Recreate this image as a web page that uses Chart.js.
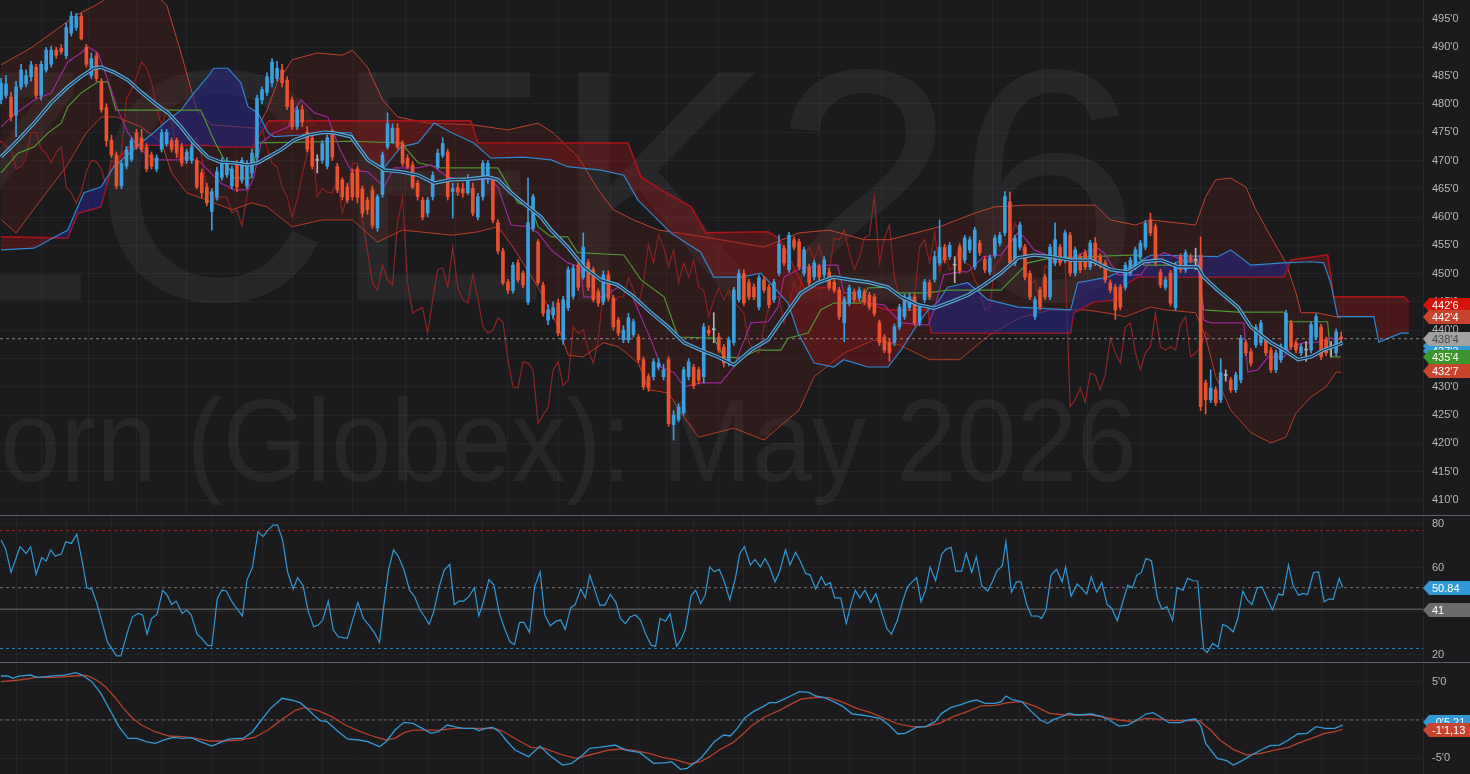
<!DOCTYPE html>
<html>
<head>
<meta charset="utf-8">
<title>ZCK26 - Corn (Globex): May 2026</title>
<script src="https://cdn.jsdelivr.net/npm/chart.js@4.4.1/dist/chart.umd.min.js"></script>
<style>
  html, body { margin: 0; padding: 0; background: #1b1b1e; overflow: hidden; }
  .pane { position: absolute; left: 0; width: 1470px; }
  #p1 { top: 0; height: 515px; }
  #p2 { top: 515px; height: 147px; }
  #p3 { top: 662px; height: 112px; }
</style>
</head>
<body>
<div class="pane" id="p1"><canvas id="mainChart"></canvas></div>
<div class="pane" id="p2"><canvas id="rsiChart"></canvas></div>
<div class="pane" id="p3"><canvas id="macdChart"></canvas></div>
<script>
// ---- price data (one candle per session) ----
const opens = [
  480.7,481.5,481.2,478.0,483.0,483.5,484.8,486.5,481.5,486.0, 487.0,489.5,489.8,488.5,492.5,493.5,495.5,490.0,485.0,488.5,
  484.0,479.3,473.6,471.0,465.5,469.0,470.2,474.9,474.0,472.4, 471.0,468.5,472.0,473.0,473.5,473.6,472.4,470.0,470.0,470.0,
  467.8,465.3,461.0,463.5,467.0,467.5,465.5,469.6,466.5,465.5, 467.8,470.6,480.7,482.0,483.7,484.5,486.0,484.2,480.7,476.0,
  479.0,475.0,474.0,470.0,470.0,469.0,475.0,468.9,466.6,465.3, 467.8,468.5,465.0,463.0,464.8,458.1,464.0,472.4,473.3,475.7,
  473.0,470.4,469.2,466.0,463.0,460.7,463.6,468.9,470.9,471.5, 464.5,465.2,465.0,464.3,465.1,460.0,463.6,466.8,466.6,459.0,
  454.0,448.5,447.0,451.9,450.1,445.0,458.0,455.6,448.0,441.8, 442.7,444.8,438.3,444.0,446.0,451.5,449.4,452.0,450.7,446.8,
  445.0,449.8,445.7,441.8,438.3,438.3,439.2,438.8,434.8,431.8, 431.8,433.5,431.8,434.8,423.3,424.2,425.4,431.8,433.5,433.0,
  431.8,440.0,440.1,438.8,437.0,434.2,437.8,445.4,450.0,448.4, 447.6,444.1,448.9,447.6,445.4,450.1,454.5,450.7,456.0,455.6,
  450.1,451.2,449.4,451.2,449.8,450.3,448.5,447.1,441.3,444.8, 446.8,445.7,446.8,446.2,445.9,441.3,438.8,437.9,437.8,440.6,
  442.4,444.0,445.9,441.3,445.4,448.4,449.0,451.9,454.7,453.0, 451.5,454.7,452.4,454.2,451.2,455.4,452.5,450.3,453.3,455.4,
  457.2,462.7,451.9,454.7,454.7,450.0,442.4,447.1,449.4,445.9, 451.9,454.7,452.4,456.8,450.1,453.0,453.7,451.2,455.4,453.0,
  451.9,448.4,447.6,447.6,447.6,450.1,451.2,453.0,454.7,459.5, 458.3,450.3,447.6,450.1,444.0,453.0,450.7,453.0,452.4,453.3,
  430.7,427.7,429.5,427.7,432.0,431.2,429.5,431.2,437.8,436.2, 437.4,437.8,438.3,436.5,433.0,434.8,436.5,441.3,437.8,436.0,
  436.5,436.5,438.8,440.6,438.3,437.0,436.0,438.8
];
const highs = [
  484.5,485.0,482.0,484.0,487.0,486.0,487.5,487.0,487.5,490.0, 490.2,490.0,490.5,494.3,496.3,496.0,496.0,490.5,489.0,489.0,
  484.5,480.0,474.5,471.5,470.0,472.5,474.0,475.5,475.5,473.0, 471.5,471.0,475.5,475.5,474.0,474.0,473.0,472.0,473.0,470.5,
  468.5,466.0,465.0,468.8,470.5,470.5,469.0,470.0,470.5,470.0, 472.0,481.5,483.0,485.5,488.0,487.5,487.0,484.8,481.2,479.5,
  479.8,476.0,474.5,471.0,473.5,474.5,475.5,469.5,467.0,466.0, 468.5,469.0,465.5,463.5,465.5,464.0,471.5,478.4,476.5,476.5,
  473.5,471.0,469.8,466.5,463.5,463.5,468.0,472.0,474.0,472.0, 466.0,466.0,466.0,467.5,466.0,464.2,470.0,470.0,467.0,459.5,
  454.5,449.0,452.0,452.5,450.5,466.9,464.0,456.0,448.5,444.5, 445.0,445.5,446.0,451.2,451.5,452.0,457.2,452.5,451.2,447.3,
  450.5,450.5,446.2,442.3,440.8,443.0,442.0,439.3,435.3,432.3, 435.0,435.0,434.0,435.3,425.8,427.0,433.5,435.0,434.0,433.5,
  441.2,440.8,443.1,439.5,437.5,438.8,447.6,450.7,450.7,449.0, 448.2,449.8,449.5,448.1,449.0,456.8,455.0,457.3,456.5,456.1,
  454.7,451.7,452.4,451.7,453.0,451.0,449.0,447.6,445.9,448.0, 447.3,447.6,447.3,446.7,446.4,441.8,439.3,438.4,441.1,444.6,
  446.4,446.5,446.4,444.6,449.0,448.9,454.0,459.5,455.2,455.5, 453.0,455.2,456.8,456.5,458.2,455.9,453.0,453.3,456.8,457.3,
  464.5,464.4,456.8,459.1,455.2,450.5,445.9,447.6,449.9,455.2, 459.0,455.2,457.7,457.3,454.7,453.5,454.2,455.9,456.4,453.5,
  452.4,448.9,448.1,448.1,452.0,452.9,454.7,455.9,459.4,460.7, 458.8,450.8,449.4,450.6,452.0,453.5,454.2,453.5,454.5,456.5,
  431.2,433.0,430.0,435.0,433.0,431.7,432.6,439.1,438.3,436.7, 441.0,441.8,438.8,437.0,436.5,437.6,443.5,441.8,438.3,437.6,
  438.0,441.5,442.9,441.1,438.8,438.0,440.2,439.7
];
const lows = [
  480.0,481.0,477.0,474.2,482.5,483.0,484.0,481.0,480.7,485.6, 486.5,488.0,488.8,488.0,492.0,493.0,491.3,486.5,484.5,484.0,
  478.5,472.5,470.5,465.0,465.0,468.5,469.8,472.0,471.5,468.0, 468.5,468.0,471.5,472.5,471.5,470.5,469.0,469.5,469.5,465.0,
  463.5,462.0,457.7,463.0,466.5,467.0,465.0,464.5,466.0,465.0, 467.0,470.0,480.0,481.5,483.0,484.0,483.0,479.0,475.5,475.5,
  476.0,471.5,468.5,467.8,469.5,468.5,470.0,464.3,463.0,462.5, 463.0,462.5,460.0,460.5,458.0,457.5,463.5,472.0,473.0,472.0,
  469.0,468.5,465.0,463.0,459.5,460.0,463.0,468.5,470.5,463.0, 459.8,463.8,463.5,464.0,460.2,459.5,463.0,466.0,459.0,453.5,
  448.0,446.5,446.5,448.5,447.5,444.5,457.5,448.0,442.5,441.0, 442.0,439.0,437.5,443.5,445.5,447.0,449.0,447.0,445.0,444.2,
  444.5,445.2,440.0,439.0,437.8,437.8,438.8,434.3,429.5,429.2, 431.2,433.0,431.2,423.0,420.6,423.8,425.0,431.2,429.7,430.5,
  430.7,439.0,437.8,436.0,433.5,433.7,437.3,445.0,444.3,445.4, 445.4,443.6,446.6,444.0,444.9,449.6,451.4,450.2,454.2,450.7,
  449.6,447.9,448.9,448.9,449.3,447.1,446.6,441.9,438.0,444.3, 444.9,445.2,444.5,443.6,442.5,437.3,436.0,434.5,437.3,440.1,
  441.9,443.5,440.8,440.8,444.9,445.4,448.5,451.4,451.9,452.5, 448.4,450.0,451.9,453.7,450.7,453.2,450.2,449.8,452.8,454.9,
  456.7,451.4,451.4,454.2,448.9,445.4,441.9,443.6,445.4,445.4, 451.4,451.4,451.9,449.6,449.6,450.2,450.7,450.7,451.4,451.0,
  448.4,446.6,441.9,443.6,447.1,449.6,450.7,452.5,454.2,456.7, 451.4,447.5,447.1,444.3,443.5,450.2,450.2,451.9,450.7,425.8,
  425.2,427.2,426.7,427.2,431.0,429.0,429.0,430.7,435.5,433.7, 436.9,437.3,435.5,432.5,432.5,434.3,436.0,436.6,436.0,435.5,
  434.5,436.0,438.3,434.8,435.5,435.3,435.5,437.3
];
const closes = [
  483.7,483.5,477.7,483.0,486.0,485.0,486.9,481.5,487.0,489.5, 489.5,488.6,489.2,493.5,495.5,495.4,491.5,487.0,488.0,484.5,
  479.0,473.5,471.0,465.5,469.5,471.9,473.5,472.5,472.0,468.5, 469.0,470.5,474.9,475.0,472.0,471.3,469.6,471.5,472.4,465.3,
  464.3,462.5,464.5,468.0,470.0,469.8,468.5,465.3,470.0,469.5, 471.3,481.0,482.5,484.8,487.4,486.3,483.7,479.5,476.0,478.9,
  476.8,472.0,469.0,470.0,473.0,474.0,470.6,464.8,463.6,463.0, 463.6,463.5,460.7,461.3,458.5,463.6,471.0,476.5,475.7,472.4,
  469.5,468.9,465.3,463.6,460.0,463.0,467.4,471.3,473.0,463.6, 465.0,464.4,464.3,466.6,460.7,463.6,469.5,469.5,459.5,454.0,
  448.4,447.1,451.5,448.9,448.0,459.0,463.6,448.4,443.0,443.6, 444.0,439.5,445.4,450.7,451.0,447.6,454.7,447.6,445.4,444.8,
  449.8,445.7,440.6,439.5,440.0,442.2,441.5,434.8,430.0,429.8, 434.4,434.2,433.0,423.5,425.0,426.4,433.0,434.4,430.2,431.2,
  440.6,439.5,440.1,436.5,434.2,438.3,447.1,450.0,444.8,445.9, 445.9,449.3,447.1,444.5,448.5,455.2,451.9,456.8,454.7,451.2,
  454.2,448.4,451.9,449.4,452.4,447.6,447.1,442.4,445.4,447.5, 445.4,447.1,445.0,444.1,443.0,437.8,436.5,436.0,440.6,444.1,
  445.9,445.9,441.3,444.1,448.5,445.9,453.0,454.7,452.4,455.0, 451.5,450.5,456.3,456.0,457.7,453.7,450.7,452.8,456.3,456.8,
  463.6,451.9,456.3,458.6,449.4,445.9,445.4,444.1,445.9,454.7, 456.0,451.9,457.2,450.1,454.2,450.7,451.2,455.4,451.9,451.5,
  448.9,447.1,443.6,444.1,451.5,452.4,454.2,455.4,458.9,457.2, 451.9,448.0,448.9,444.8,451.5,450.7,453.7,452.4,452.4,426.5,
  427.7,429.8,427.2,432.5,432.0,429.5,432.1,438.6,436.0,434.2, 440.5,441.3,436.0,433.0,436.0,437.1,443.0,437.1,436.5,437.1,
  436.5,441.0,442.4,435.3,436.0,437.0,439.7,438.5
];
const lastPrice = 438.5;
const chikouShift = 26;

// ---- overlays, [candle index, price] ----
const maLine = [[0,470.6],[3.4,473.6],[6.6,476.6],[10,480.2],[13.3,483],[15.9,484.8],[18.5,486.3],[19.9,486.5],[22.5,485.6],[25.3,484.2],[27.9,482.1],[30.5,480.2],[33.3,478.4],[35.9,475.9],[38.4,473.1],[41.2,470.6],[43.8,469.7],[46.4,469.6],[49.2,469.2],[51.2,469.6],[53.2,470.6],[55.8,471.9],[58.4,473.6],[61.2,474.5],[64.3,475],[66.3,474.9],[69.7,474.2],[73.1,470.1],[76.3,468.3],[79.7,468],[83.1,467.4],[86.3,466],[89.6,466.6],[93,466.7],[97,467.1],[99,466.6],[101.6,464.3],[105,461.8],[107.6,460],[109.6,457.7],[112.9,454.7],[116.1,451.2],[119.5,448.9],[122.9,448],[126.1,445.9],[129.5,443.1],[132.9,440.6],[136.1,437.8],[139.4,436.5],[142.8,435.3],[146,433.9],[149.4,436.5],[152.8,438.3],[156,442.4],[159.4,446.6],[162.7,448.4],[165.9,449.4],[169.3,448.9],[172.7,448.5],[176.7,447.6],[179.3,445.9],[182.7,444.5],[185.9,443.9],[189.2,445],[192.6,446.2],[195.8,448],[199.2,450.1],[202.6,452.8],[205.8,453.3],[209.2,453],[213.1,452.4],[217.1,452.4],[221.1,450.7],[224.5,450.3],[227.7,452.1],[231.1,452.4],[234.5,451.2],[238.4,451.2],[239.6,449.4],[242.4,447.1],[246.4,444.1],[249,440.6],[253,437.8],[255.6,436.5],[258.4,434.8],[261,435.3],[263.5,436.5],[266.3,437.4],[267.3,437.8]];
const tenkan = [[0,475.9],[2,477.7],[6.6,480.7],[10,481.9],[13.3,487.4],[15.9,489],[17.3,490.1],[19.3,489],[21.3,484.2],[23.3,478.9],[25.3,474.9],[27.9,471.9],[30.5,470.1],[35.3,470.1],[37.3,470.6],[39.8,469.6],[41.8,467.8],[43.8,466],[46.4,464.8],[49.2,464.8],[50.4,467.1],[51.8,473.1],[54.4,474.9],[57.2,475.9],[58.4,478.9],[59.8,480.7],[62.4,478.4],[65.1,477.7],[67.5,472],[69.7,468.3],[73.1,468],[76.3,465.3],[78.3,468.7],[83.1,468.7],[85.7,469.2],[89,467.1],[91.6,466.6],[97.6,466.6],[99,465.3],[101.6,458.6],[105,458.3],[107,457.2],[109.6,454.2],[112.9,451.9],[115.5,451.2],[116.1,445.9],[120.1,445.9],[122.9,447.6],[125.5,446.6],[127.5,442.4],[129.5,438.3],[131.5,433.5],[134.1,432.5],[136.1,430],[139.4,430.7],[143.4,430.7],[146,433.5],[149.4,441.3],[152.8,441.5],[154.8,444.1],[156,449.4],[159.4,451],[164.7,451.5],[166.7,451.5],[167.9,446.6],[170.7,446.6],[172.7,444.8],[175.9,444.5],[179.3,441.3],[184.7,440.9],[185.9,443.6],[187.8,449.8],[191.2,450.3],[192.6,450.3],[195.8,453],[199.2,453.3],[202.6,457.2],[203.8,456.5],[205.8,454.2],[209.2,453],[212.5,452.4],[215.7,453.7],[218.5,454.5],[219.7,453.7],[222.5,449.8],[227.1,449.8],[229.1,452.4],[231.7,453.7],[235.7,452.4],[238.4,452.4],[239.6,441.8],[241,441.3],[247.6,441.3],[248.4,432.6],[250.4,433],[252.4,435.3],[255.6,435.3],[257,437.1],[259.6,437.8],[262.4,437.9],[264.9,438.6],[266.9,438.3]];
const kijun = [[0,467.8],[3.4,471.3],[6.6,472.4],[9.4,474.9],[12,476.6],[13.3,479.5],[15.9,481.9],[19.3,483.9],[21.3,483.9],[22.9,478.9],[39.8,478.9],[42.4,473.6],[46.4,466.9],[49.8,466.9],[51.2,473.1],[69.7,473.4],[79.7,473.1],[83.1,469.6],[87.6,468.7],[99,468.7],[103,462.5],[105.6,461.8],[107,458.3],[109.6,456.5],[112.9,456.5],[114.9,453.7],[124.1,453.3],[127.5,448.9],[129.5,447.6],[132.1,445.9],[134.9,438.8],[142,438.6],[144,435.3],[147.4,435.1],[150.8,436.5],[155.4,436.5],[156.8,438.6],[160.8,439.5],[163.3,443.6],[165.9,444.8],[171.3,444.8],[172.7,447.5],[176.7,447.6],[178.7,446.6],[184.7,446.6],[188.6,447.1],[199.2,447.1],[202.6,450.1],[204.6,451.9],[209.2,452.8],[226.5,453.3],[227.7,451.5],[233.1,451.5],[234.5,452.1],[238.4,452.1],[239.6,443.6],[246.4,443.2],[255.6,443.2],[256.4,441.5],[264.3,441.5],[264.9,435.3],[266.9,435.3]];
const senkouA = [[0,454.2],[6.6,454.5],[13.3,457.7],[16.5,464.3],[19.9,465.3],[22.5,468.9],[27.9,473.1],[30.5,475],[33.3,477.2],[35.9,478.9],[38.4,481.9],[41.2,484.8],[42.4,486.3],[45.2,486.3],[47.8,483.7],[49.2,479.5],[51.2,478.4],[53.2,474.9],[54.4,474.2],[59.8,474.5],[63.7,475],[69.7,474.9],[73.1,470.1],[76.3,468.7],[79.7,472.4],[83.1,473.1],[86.3,476.6],[89.6,475],[94.2,473.1],[97.6,470.4],[104.2,470.6],[109.6,470.1],[112.9,468.9],[119.5,468.3],[124.1,467.4],[126.9,463],[129.5,460.7],[133.5,457.2],[139.4,453.8],[142,449.4],[147.4,449.4],[151.4,450.1],[154,447.6],[156.8,444.8],[158.8,439.5],[162,434.2],[165.9,433.5],[167.9,434.8],[172.7,433.5],[176.7,433.5],[179.3,436.5],[181.9,440.1],[184.7,443.6],[186.7,445],[188.6,447.6],[192.6,448.4],[196.6,445.4],[202.6,444.1],[213.1,443.6],[214.5,448.4],[220.5,449.4],[224.5,451],[229.1,453.3],[242.4,453],[245,454.2],[249,451.5],[255.6,451.9],[261,452.1],[263.5,451.9],[264.9,448.4],[266.3,442.4],[273.5,442.4],[274.5,437.9],[278.9,439.5],[280.5,439.5]];
const senkouB = [[0,456.5],[13.3,456.3],[15.3,460.7],[19.9,461.8],[21.9,468.3],[25.3,472.4],[27.9,472.7],[41.2,472.7],[43.8,472.4],[50.4,472.4],[51.8,474.9],[53.4,477],[93.6,477],[95,473.1],[124.9,473.1],[127.5,467.1],[131.5,464.8],[137.5,461.8],[140.4,457.2],[152.8,457.4],[154.8,456.3],[156,454.7],[160,447.5],[165.9,447.5],[167.9,445.9],[176.7,443.6],[184.7,443.6],[185.3,439.5],[213.1,439.5],[213.7,443.1],[217.7,445],[222.5,445.4],[223.1,447.6],[226.5,449.4],[255.6,449.4],[257,452.4],[264.3,453.3],[265.5,445.9],[279.5,445.9],[280.5,445]];
const bbUpper = [[0,486.9],[6,489.9],[11,493.1],[15,495.7],[19,497.5],[22,499.2],[26,501],[30,499.8],[33,497.5],[36,488.6],[39,478.9],[42,476.3],[48,475.9],[51,475.7],[53,478.9],[55,483.7],[58,487.8],[63,489],[68,488.6],[70,489.5],[73,486.5],[76,480.7],[79,477.7],[85,476.6],[94,476.3],[101,475.4],[107,476.6],[110,474.9],[115,470.6],[119,464.8],[122,461.3],[126,459.5],[131,457.7],[140,456.5],[146,455.6],[152,454.7],[159,457.2],[165,457.7],[172,456],[177,456],[187,458.3],[194,460.7],[198,461.8],[204,462.1],[210,462.1],[218,462.1],[221,459.5],[226,458.6],[229,459.5],[238,458.6],[240,463.6],[242,466.6],[245,466.9],[248,465.3],[250,461.3],[253,456.5],[256,451.9],[258,446.6],[259,443.1],[262,443.1],[267,442.2]];
const bbLower = [[0,459.6],[3,457.2],[9,464.3],[13,468.9],[17,474.9],[20,477.7],[23,477.7],[28,475.9],[32,473.1],[34,467.8],[37,464.3],[41,463],[46,461.3],[50,462.5],[53,461.8],[58,458.3],[64,459.5],[70,459.5],[75,455.6],[80,457.7],[90,456.8],[95,457.4],[99,458.3],[102,454.7],[107,447.6],[111,440.6],[113,435.6],[116,435.3],[120,437.8],[123,437.1],[127,434.2],[129,429.5],[133,428.9],[136,424.7],[139,421.1],[146,422.7],[152,420.6],[159,425.9],[162,431.8],[168,436],[174,438.3],[179,437.4],[185,434.8],[191,434.8],[197,439.2],[203,442.2],[209,443.6],[216,443.6],[220,443.1],[224,442.4],[229,444.1],[232,443.6],[238,443.1],[240,438.8],[242,431.8],[245,425.9],[249,421.9],[253,420.1],[256,421.1],[258,425.4],[261,428.2],[264,430],[266,432.6],[267,432.6]];

// ---- lower studies ----
const rsiPts = [[0,72.7],[0.9,68.8],[2,57.8],[3.8,69.6],[5,66.5],[5.9,69.6],[7,56.9],[8.1,64.6],[9,63],[9.9,68.1],[10.8,65.3],[12,66.2],[12.9,71.9],[14,71.1],[15.1,75.3],[16.2,62.7],[17.1,50.8],[18.1,50.2],[19.1,43.6],[20.3,33.7],[21.2,26],[23,19.6],[23.9,19.6],[25.1,29.8],[26.2,37.5],[27.3,39],[28.2,38.3],[29.1,29.5],[30,36.7],[31.1,38.7],[32.2,49.7],[33.1,47.4],[34,43.1],[34.9,44.7],[36.1,39],[37,40.6],[37.9,38.3],[39.1,29.4],[40,27.6],[41.1,24.5],[42,24.2],[43.1,45.9],[44,49.7],[44.9,49.3],[46,44.4],[47.1,40.9],[48.1,37.9],[49,54.3],[50.1,60.1],[51.2,76.5],[52.2,74.2],[53.2,77.2],[54.2,79.5],[55.1,79.5],[56.1,72.7],[57.1,58.1],[58.2,50.2],[59.1,55.4],[60.2,51.7],[61.2,40.1],[62.3,32.9],[63.2,33.7],[64.1,36],[65.2,44.7],[66.2,31.4],[67.2,28.3],[69,27.6],[70.1,36.3],[71.1,44.1],[72.2,36.7],[73.3,33.7],[74.5,29.8],[75.4,25.7],[76.3,43.1],[77.2,58.9],[78.2,68.1],[79.2,65],[80.3,58.9],[81.4,49.7],[82.4,46.7],[83.5,40.6],[84.4,37.5],[85.3,34],[86.2,39.8],[87.3,51.2],[88.3,58.9],[89.4,61.5],[90.3,43.1],[91.3,44.7],[92.2,44.7],[93.2,46.7],[94.3,50.8],[95.2,37.9],[96.1,44.4],[97.2,54.6],[98.2,52],[99.3,39],[100.4,31.7],[101.4,26],[102.3,24.8],[103.3,34.9],[104.2,34.9],[105.3,30.3],[106.3,51.2],[107.4,58.1],[108.3,38.7],[109.4,33.4],[110.6,35.5],[111.5,36],[112.4,31.7],[113.5,41.6],[114.4,43.1],[115.5,50.2],[116.4,46.2],[117.3,56.6],[118.4,49],[119.3,42.8],[120.3,42.8],[121.4,47.7],[122.5,44.1],[123.4,36.7],[124.4,34.4],[125.4,37.5],[126.4,38.3],[127.4,36],[128.4,29.8],[129.5,24.5],[130.4,24],[131.3,36.7],[132.4,35.5],[133.3,38.9],[134.6,24],[135.4,26.8],[136.3,31.4],[137.5,47.1],[138.4,49.7],[139.4,43.6],[140.3,47.4],[141.2,60.4],[142.1,58.1],[143.1,59.2],[144,54.3],[145.2,45.2],[146.3,55.1],[147.2,66.5],[148.1,69.6],[149.3,61.2],[150.2,63.8],[151.3,60.4],[152.2,64.2],[153.1,60.4],[154.2,53.5],[155.1,58.1],[156.3,68.1],[157.2,61.2],[158.3,67],[159.3,62.7],[160.3,57.4],[161.2,56.6],[162.3,50.2],[163.4,55.8],[164.3,52],[165.2,53.1],[166.1,46.2],[167.3,46.2],[168.4,34.4],[169.3,42.8],[170.2,49.7],[171.1,46.2],[172.1,49.7],[173.3,44.1],[174.3,48.2],[175.3,40.6],[176.5,32.1],[177.4,29.5],[178.6,36],[179.7,45.2],[180.6,51.2],[181.5,53.5],[182.4,55.4],[183.3,44.4],[184.2,49.7],[185.1,60.4],[186.2,54],[187.4,66.1],[188.3,68.5],[189.3,69.3],[190.2,58.4],[191.4,58.4],[192.3,66.5],[193.4,57.8],[194.3,65],[195.4,51.6],[196.6,49.3],[197.5,53.5],[198.4,58.4],[199.5,60.9],[200.2,71.9],[201.3,48.7],[202.3,53.5],[203.2,53.5],[204.4,42.8],[205.3,37.9],[206.6,37.8],[207.3,36.7],[208.2,40.6],[209.2,56.6],[210.3,59.2],[211.4,53.5],[212.1,60.4],[213.2,47],[214.4,52.5],[215.3,50.5],[216.3,47.9],[217.2,55.8],[218.3,48.7],[219.3,53.2],[220.4,43.1],[221.3,41.3],[222.4,35.7],[223.6,45.2],[224.5,52],[225.4,50.8],[226.3,56.6],[227.2,57.8],[228.1,64.2],[229.2,63.2],[230.4,45.9],[231.3,41],[232.3,42.1],[233.4,35.7],[234.3,50.8],[235.5,49.7],[236.4,55.1],[237.5,54],[238.4,53.9],[239.6,22.5],[240.3,21.1],[241.4,25.3],[242.5,23.7],[243.4,34],[244.4,32.9],[245.5,30.6],[246.4,36.7],[247.4,49.3],[248.3,45.2],[249.2,43.1],[250.3,50.8],[251.2,51.2],[252.4,45.2],[253.3,40.6],[254.5,47.9],[255.4,47.4],[256.5,61.2],[257.4,52],[258.5,47.4],[259.4,48.2],[260.3,47.7],[261.5,57.8],[262.5,58.1],[263.6,44.4],[264.5,45.6],[265.4,45.5],[266.6,55.1],[267.3,50.84]];
const rsiLast = 50.84, rsiAvg = 41, rsiHigh = 77, rsiLow = 23;

const macdPts = [[0,5.74],[1.4,5.74],[2.3,5.44],[3.6,5.74],[5.9,5.87],[7.2,5.57],[9,5.65],[10.8,5.78],[12.6,5.87],[14.9,6.18],[16.2,5.87],[18.1,5],[19.9,3.48],[21.7,1.3],[23.5,-0.87],[25.3,-2.4],[27.1,-2.4],[28.9,-2.83],[30.7,-3.05],[32.5,-2.61],[34.3,-2.27],[36.1,-2.4],[37.9,-2.31],[39.7,-2.83],[42,-3.4],[43.3,-3.05],[45.1,-2.53],[46.9,-2.4],[48.3,-2.4],[50.1,-1.53],[51.9,0],[53.7,1.52],[56,2.83],[57.8,2.61],[59.6,2.26],[60.9,1.52],[62.3,0.65],[63.6,-0.09],[65,-0.22],[66.8,-1.31],[69,-2.48],[71.3,-2.61],[73.1,-2.83],[75.4,-3.48],[76.7,-2.83],[78.5,-1.31],[80.3,-0.31],[82.1,-0.44],[83.9,-1.09],[85.7,-1.74],[87.1,-1.53],[88.9,-0.66],[90.3,-0.87],[92.1,-1.09],[94.3,-1.09],[95.2,-1.4],[96.6,-1.09],[97.9,-0.96],[99.3,-1.53],[100.6,-2.61],[102.4,-3.92],[105.1,-4.79],[107.4,-3.4],[109.2,-4.57],[111.9,-5.88],[113.7,-5.66],[115.5,-4.79],[117.3,-3.7],[119.1,-3.57],[120.9,-3.4],[122.3,-3.27],[124.5,-3.92],[127.3,-4.27],[130,-5.66],[132.7,-5.57],[133.6,-5.44],[135.4,-6.44],[136.7,-6.31],[138.5,-5.44],[139.4,-5.01],[140.8,-3.92],[142.1,-2.83],[144,-1.96],[145.3,-2.09],[146.7,-1.09],[148.1,0.22],[149.9,1.09],[151.8,1.74],[153.1,2.26],[154.5,2.26],[155.9,2.7],[157.7,3.26],[159.1,3.7],[160.9,3.61],[162.3,3.13],[164.1,2.91],[165.9,2.39],[167.8,1.74],[169.6,0.78],[171.4,0.65],[173.3,0.43],[175.1,0.22],[176.9,-0.66],[178.7,-1.83],[180.1,-1.74],[182.4,-0.96],[184.2,-0.87],[186.1,-0.22],[187.4,0.87],[189.3,1.65],[191.1,1.96],[192.9,2.39],[194.3,2.61],[196.1,2.17],[198,2.17],[199.3,2.39],[200.2,3.13],[201.6,2.61],[203.4,2.39],[205.3,1.09],[207.1,0],[208.5,-0.44],[209.8,0.08],[211.7,0.52],[212.6,0.87],[214.4,0.65],[217.2,0.78],[219,0.52],[220.8,0],[222.7,-0.79],[224.5,-0.66],[226.3,0],[228.1,0.78],[229.5,0.95],[230.9,0.43],[232.7,-0.35],[235,-0.35],[236.4,0],[238,0.13],[239.1,-0.87],[240,-3.05],[242.3,-5.01],[244.2,-5.31],[245.5,-5.88],[246.9,-5.44],[249.2,-4.57],[251,-3.92],[252.8,-3.35],[254.7,-3.27],[256.5,-2.61],[258.3,-1.83],[260.2,-1.74],[262,-0.87],[263.8,-1.09],[265.7,-1.09],[267.3,-0.66]];
const signalPts = [[0,5],[3.6,5.22],[7.2,5.57],[10.8,5.57],[14.4,5.74],[17.1,5.83],[19,5.22],[20.8,4.35],[22.6,3.04],[24.4,1.52],[26.2,0.22],[28,-0.66],[30.7,-1.53],[33.4,-2.09],[36.1,-2.18],[38.8,-2.4],[41.5,-2.74],[44.2,-2.74],[47.8,-2.61],[50.5,-2.27],[53.2,-1.31],[56,0.08],[58.7,1.3],[60.5,1.61],[63.2,1.22],[65.9,0.43],[68.6,-0.66],[71.3,-1.44],[74,-2.09],[76.7,-2.61],[78.5,-2.4],[80.3,-1.66],[82.1,-1.31],[84.8,-1.31],[87.5,-1.31],[90.3,-1.09],[94.8,-1.09],[98.4,-1.09],[100.2,-1.53],[102.9,-2.61],[105.6,-3.57],[108.3,-3.7],[111.9,-4.57],[114.6,-5],[117.3,-4.57],[121,-3.92],[123.7,-3.79],[126.4,-4.01],[129.1,-4.35],[131.8,-4.88],[134.5,-5.22],[137.2,-5.74],[139.4,-5.44],[141.2,-4.79],[143.1,-3.92],[145.8,-2.96],[147.6,-1.96],[149.5,-0.79],[152.2,0.43],[155,1.22],[157.7,2.17],[159.5,2.74],[162.3,2.96],[165,2.91],[167.8,2.31],[170.5,1.52],[173.3,0.95],[176,0.22],[178.7,-0.52],[181.5,-0.87],[184.2,-0.87],[187,-0.44],[189.7,0.43],[192.5,1.09],[195.2,1.83],[198,1.91],[200.7,2.26],[203.4,2.39],[206.2,1.74],[208.9,0.87],[211.7,0.65],[214.4,0.65],[217.2,0.65],[219.9,0.35],[222.7,0],[225.4,-0.22],[228.1,0.22],[230.9,0.08],[233.6,-0.09],[236.4,-0.09],[238.7,-0.09],[241,-1.31],[242.8,-2.61],[245.5,-3.83],[248.3,-4.57],[251,-4.35],[253.8,-3.92],[256.5,-3.57],[258.4,-3.05],[261.1,-2.39],[263.8,-1.74],[265.7,-1.53],[267.3,-1.22]];

// ---- axes ----
const priceTicks = [410,415,420,425,430,435,440,445,450,455,460,465,470,475,480,485,490,495];
const rsiTicks = [20,40,60,80];
const macdTicks = [-5,0,5];
const gridIdx = [3,13,22,32,42,52,64,76,85,96,106,116,127,138,148,157,169,182,192,203,212,221,234,244,254,263,272];
const X_MIN = -0.2, X_MAX = 283.3;

const FONT = "'Liberation Sans', Arial, sans-serif";
const GRID = 'rgba(255,255,255,0.045)';
const UP = '#3a9fdc', DOWN = '#e8522f', FLAT = '#b4b4b4';
const BLUE = '#3398d6';

const idx = closes.map((c, i) => i);
const candleColors = idx.map(i => closes[i] > opens[i] ? UP : (closes[i] < opens[i] ? DOWN : FLAT));
const xy = pairs => pairs.map(p => ({ x: p[0], y: p[1] }));
const eighths = v => {
  const s = v < 0 ? '-' : '';
  const a = Math.abs(v), w = Math.floor(a);
  return s + w + "'" + Math.round((a - w) * 8);
};

function line(label, pairs, color, width, order, extra) {
  return Object.assign({
    type: 'line', label, data: xy(pairs), borderColor: color, borderWidth: width,
    pointRadius: 0, tension: 0, fill: false, order
  }, extra || {});
}
function hline(v, color, dash, order) {
  return line('ref', [[X_MIN, v], [X_MAX, v]], color, 1, order, { borderDash: dash });
}

// no edge padding: the plot must fill each pane top to bottom
function noPad(s) {
  s.paddingTop = 0; s.paddingBottom = 0; s.paddingLeft = 0; s.paddingRight = 0;
}
function xScale() {
  return {
    type: 'linear', min: X_MIN, max: X_MAX, offset: false,
    grid: { color: GRID, drawTicks: false }, border: { display: false },
    ticks: { display: false },
    afterBuildTicks: s => { s.ticks = gridIdx.map(v => ({ value: v })); },
    afterFit: s => { s.height = 0; noPad(s); }
  };
}
function yScale(min, max, ticks, fmt) {
  return {
    type: 'linear', position: 'right', min, max,
    grid: { color: GRID, drawTicks: false },
    border: { display: true, color: 'rgba(255,255,255,0.06)' },
    ticks: { color: '#b9b9b9', font: { family: FONT, size: 11 }, padding: 9, callback: fmt },
    afterBuildTicks: s => { s.ticks = ticks.map(v => ({ value: v })); },
    afterFit: s => { s.width = 47; noPad(s); }
  };
}

// axis price tags
function drawTag(ctx, y, text, bg, fg) {
  const tip = 1423, body = 1429, h = 14, right = 1470;
  ctx.fillStyle = bg;
  ctx.beginPath();
  ctx.moveTo(tip, y);
  ctx.lineTo(body, y - h / 2);
  ctx.lineTo(right, y - h / 2);
  ctx.lineTo(right, y + h / 2);
  ctx.lineTo(body, y + h / 2);
  ctx.closePath();
  ctx.fill();
  ctx.fillStyle = fg;
  ctx.font = '11px ' + FONT;
  ctx.textAlign = 'left';
  ctx.textBaseline = 'middle';
  ctx.fillText(text, 1432, y + 0.5);
}
function tagPlugin(tags) {
  return {
    id: 'tags',
    afterDraw(chart) {
      const ctx = chart.ctx;
      ctx.save();
      tags.forEach(t => drawTag(ctx, t.y, t.text, t.bg, t.fg));
      ctx.restore();
    }
  };
}
const separator = {
  id: 'separator',
  afterDraw(chart) {
    const ctx = chart.ctx;
    ctx.save();
    ctx.strokeStyle = 'rgba(120,120,128,0.75)';
    ctx.lineWidth = 1;
    ctx.beginPath();
    ctx.moveTo(0, 0.5);
    ctx.lineTo(chart.width, 0.5);
    ctx.stroke();
    ctx.restore();
  }
};
const watermark = {
  id: 'watermark',
  beforeDatasetsDraw(chart) {
    const ctx = chart.ctx;
    ctx.save();
    ctx.fillStyle = 'rgba(255,255,255,0.055)';
    ctx.textAlign = 'right';
    ctx.textBaseline = 'alphabetic';
    ctx.font = '331px ' + FONT;
    ctx.fillText('ZCEK26', 1140, 300);
    ctx.font = '116px ' + FONT;
    ctx.fillText('Corn (Globex): May 2026', 1137, 481, 1215);
    ctx.restore();
  }
};

const common = {
  responsive: true,
  maintainAspectRatio: false,
  animation: false,
  events: [],
  layout: { padding: 0 },
  plugins: { legend: { display: false }, tooltip: { enabled: false } }
};

Chart.defaults.font.family = FONT;

// ---- price panel ----
const CLOUD_UP = 'rgba(38,38,135,0.55)';
const CLOUD_DN = 'rgba(150,22,22,0.38)';
const BB_FILL = 'rgba(115,28,22,0.22)';

new Chart(document.getElementById('mainChart'), {
  type: 'line',
  data: {
    datasets: [
      { type: 'bar', label: 'body', data: idx.map(i => ({ x: i, y: [opens[i], closes[i]] })),
        backgroundColor: candleColors, barThickness: 3, minBarLength: 1, grouped: false,
        borderWidth: 0, order: 2 },
      { type: 'bar', label: 'wick', data: idx.map(i => ({ x: i, y: [lows[i], highs[i]] })),
        backgroundColor: candleColors, barThickness: 1, grouped: false, borderWidth: 0, order: 3 },
      line('MA', maLine, 'rgba(26,34,46,0.95)', 1.2, 0),
      line('MA edge', maLine, '#58a9dc', 3.6, 1),
      line('Tenkan', tenkan, '#9b2b9b', 1.2, 4),
      line('Kijun', kijun, '#4d9733', 1.2, 4),
      line('Senkou A', senkouA, '#2f86d0', 1.2, 6, { fill: { target: 7, above: CLOUD_UP, below: CLOUD_DN } }),
      line('Senkou B', senkouB, '#b51515', 1.6, 6),
      line('BB upper', bbUpper, '#c2432b', 1, 7, { fill: { target: 9, above: BB_FILL, below: BB_FILL } }),
      line('BB lower', bbLower, '#c2432b', 1, 7),
      line('Chikou', closes.map((c, i) => [i - chikouShift, c]), '#8e2626', 1.2, 8),
      hline(lastPrice, 'rgba(205,205,205,0.6)', [3, 3], 5)
    ]
  },
  options: Object.assign({}, common, {
    scales: {
      x: xScale(),
      y: yScale(407.35, 498.36, priceTicks, v => eighths(v))
    }
  }),
  plugins: [watermark, tagPlugin([
    { y: 305, text: "442'6", bg: '#d3130c', fg: '#ffffff' },
    { y: 317, text: "442'4", bg: '#c8442c', fg: '#ffffff' },
    { y: 346, text: "437'6", bg: BLUE, fg: '#ffffff' },
    { y: 351, text: "437'3", bg: BLUE, fg: '#ffffff' },
    { y: 339, text: "438'4", bg: '#a2a2a2', fg: '#4a4a4a' },
    { y: 357, text: "435'4", bg: '#3d962b', fg: '#ffffff' },
    { y: 371, text: "432'7", bg: '#c8442c', fg: '#ffffff' }
  ])]
});

// ---- RSI panel ----
new Chart(document.getElementById('rsiChart'), {
  type: 'line',
  data: {
    datasets: [
      line('RSI', rsiPts, BLUE, 1.2, 0),
      hline(rsiHigh, '#a32020', [3, 3], 2),
      hline(rsiLow, '#2a86c8', [3, 3], 2),
      hline(rsiAvg, 'rgba(120,120,120,0.9)', [], 3),
      hline(rsiLast, 'rgba(190,190,190,0.55)', [3, 3], 1)
    ]
  },
  options: Object.assign({}, common, {
    scales: { x: xScale(), y: yScale(16.79, 84.12, rsiTicks, v => String(v)) }
  }),
  plugins: [separator, tagPlugin([
    { y: 73, text: '50.84', bg: BLUE, fg: '#ffffff' },
    { y: 95, text: '41', bg: '#6b6b6b', fg: '#ffffff' }
  ])]
});

// ---- MACD panel ----
new Chart(document.getElementById('macdChart'), {
  type: 'line',
  data: {
    datasets: [
      line('MACD', macdPts, BLUE, 1.3, 0),
      line('Signal', signalPts, '#b8402c', 1.3, 1),
      hline(0, 'rgba(190,190,190,0.5)', [3, 3], 2)
    ]
  },
  options: Object.assign({}, common, {
    scales: { x: xScale(), y: yScale(-7.05, 7.57, macdTicks, v => eighths(v)) }
  }),
  plugins: [separator, tagPlugin([
    { y: 60, text: "-0'5,21", bg: BLUE, fg: '#ffffff' },
    { y: 68, text: "-1'1,13", bg: '#c8442c', fg: '#ffffff' }
  ])]
});
</script>
</body>
</html>
